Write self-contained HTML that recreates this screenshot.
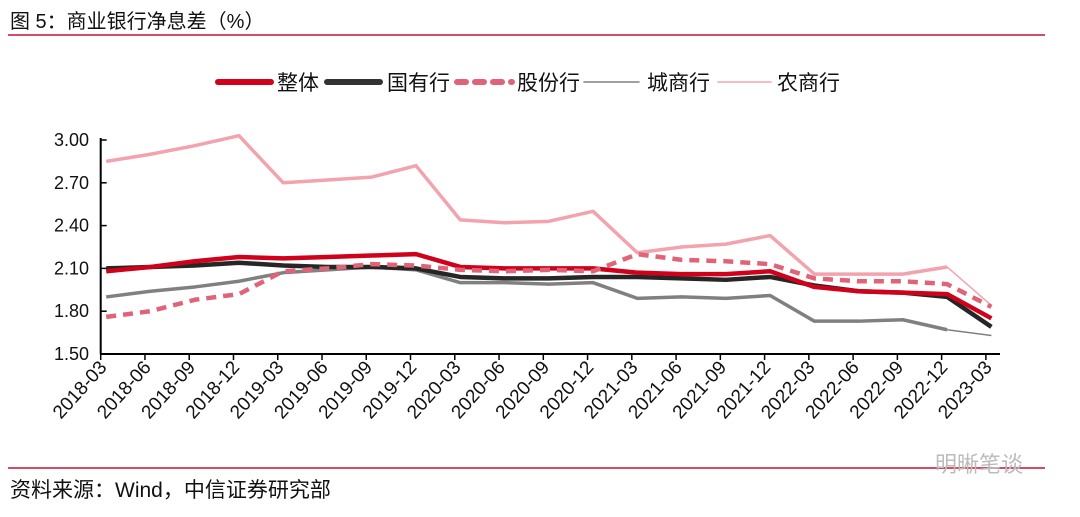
<!DOCTYPE html>
<html><head><meta charset="utf-8"><style>
body{margin:0;background:#fff;width:1080px;height:512px;overflow:hidden;font-family:"Liberation Sans","Noto Sans CJK SC",sans-serif;}
</style></head><body>
<svg width="1080" height="512" xmlns="http://www.w3.org/2000/svg" font-family="Liberation Sans, Noto Sans CJK SC, sans-serif">
<text x="10" y="28" font-size="20" fill="#111">图 5：商业银行净息差（%）</text>
<line x1="8" y1="35" x2="1045" y2="35" stroke="#c8102e" stroke-width="1.5"/>
<g id="legend"></g>
<g id="axes"></g>
<g id="plot"></g>
<line x1="8" y1="468" x2="1045" y2="468" stroke="#c8102e" stroke-width="1.5"/>
<text x="10" y="497" font-size="21" fill="#111">资料来源：Wind，中信证券研究部</text>
<text x="935" y="472" font-size="22" fill="#bbb">明晰笔谈</text>
</svg>
<script>
const categories=["2018-03","2018-06","2018-09","2018-12","2019-03","2019-06","2019-09","2019-12","2020-03","2020-06","2020-09","2020-12","2021-03","2021-06","2021-09","2021-12","2022-03","2022-06","2022-09","2022-12","2023-03"];
const overall=[2.08,2.11,2.15,2.18,2.17,2.18,2.19,2.20,2.11,2.10,2.10,2.10,2.07,2.06,2.06,2.08,1.97,1.94,1.93,1.92,1.75];
const stateOwned=[2.10,2.11,2.12,2.14,2.12,2.11,2.11,2.10,2.04,2.03,2.03,2.04,2.04,2.03,2.02,2.04,1.98,1.94,1.93,1.90,1.69];
const jointStock=[1.76,1.80,1.88,1.92,2.08,2.10,2.13,2.12,2.09,2.08,2.09,2.08,2.20,2.16,2.15,2.13,2.03,2.01,2.01,1.99,1.83];
const cityBanks=[1.90,1.94,1.97,2.01,2.07,2.09,2.11,2.09,2.00,2.00,1.99,2.00,1.89,1.90,1.89,1.91,1.73,1.73,1.74,1.67,1.63];
const ruralBanks=[2.85,2.90,2.96,3.03,2.70,2.72,2.74,2.82,2.44,2.42,2.43,2.50,2.21,2.25,2.27,2.33,2.06,2.06,2.06,2.11,1.84];
const yTicks=[1.50,1.80,2.10,2.40,2.70,3.00];
const seriesNames=["整体","国有行","股份行","城商行","农商行"];

const NS="http://www.w3.org/2000/svg";
const x0=100.7, step=44.26, ptOff=5.5;
const yScale=v=>354-(v-1.5)/1.5*214;
const tickX=i=>x0+step*i;
const ptX=i=>x0+ptOff+step*i;
function mk(tag,attrs,parent){const e=document.createElementNS(NS,tag);for(const k in attrs)e.setAttribute(k,attrs[k]);parent.appendChild(e);return e;}
const axes=document.getElementById('axes'),plot=document.getElementById('plot'),legend=document.getElementById('legend');

let l=mk('line',{x1:x0,y1:138,x2:x0,y2:354,stroke:'#000','stroke-width':2},axes);


l=mk('line',{x1:x0,y1:354,x2:1000,y2:354,stroke:'#000','stroke-width':2},axes);


yTicks.forEach(v=>{
  const y=yScale(v);
  let t=mk('line',{x1:x0,y1:y,x2:x0+6,y2:y,stroke:'#000','stroke-width':1.5},axes);
  
  
  let tx=mk('text',{x:89,y:y+6,'font-size':18,'text-anchor':'end',fill:'#111'},axes);
  tx.textContent=v.toFixed(2);
  
  
});
categories.forEach((c,i)=>{
  const x=tickX(i);
  let t=mk('line',{x1:x,y1:354,x2:x,y2:360,stroke:'#000','stroke-width':1.5},axes);
  
  
  let tx=mk('text',{x:x+7,y:368,'font-size':19,'text-anchor':'end',fill:'#111',transform:`rotate(-48 ${x+7} 368)`},axes);
  tx.textContent=c;
  
  
});

const styles=[
 {data:cityBanks,color:'#808080',w:3.5,dash:null,thinLast:true,name:'city-banks-line'},
 {data:ruralBanks,color:'#f2a3ae',w:3.5,dash:null,thinLast:true,name:'rural-banks-line'},
 {data:stateOwned,color:'#262626',w:4.5,dash:null,name:'state-owned-line'},
 {data:overall,color:'#d0021b',w:4.5,dash:null,name:'overall-line'},
 {data:jointStock,color:'#e06377',w:4.5,dash:'10,7',name:'joint-stock-line'}
];
styles.forEach(s=>{
  const n=s.thinLast?s.data.length-1:s.data.length;
  const pts=s.data.slice(0,n).map((v,i)=>ptX(i)+','+yScale(v)).join(' ');
  const a={points:pts,fill:'none',stroke:s.color,'stroke-width':s.w,'stroke-linejoin':'round'};
  if(s.dash)a['stroke-dasharray']=s.dash;
  let p=mk('polyline',a,plot);
  
  
  if(s.thinLast){
    const k=s.data.length-1;
    let q=mk('line',{x1:ptX(k-1),y1:yScale(s.data[k-1]),x2:ptX(k),y2:yScale(s.data[k]),stroke:s.color,'stroke-width':1.5},plot);
    
    
  }
});

const leg=[
 {x:218,x2:271,color:'#d0021b',w:6,dash:null,tx:277},
 {x:327,x2:380,color:'#333',w:6,dash:null,tx:387},
 {x:457,x2:512,color:'#e06377',w:6,dash:'9,9',tx:517},
 {x:584,x2:639,color:'#808080',w:1.5,dash:null,tx:647},
 {x:718,x2:771,color:'#f2a3ae',w:1.5,dash:null,tx:777}
];
leg.forEach((g,i)=>{
  const a={x1:g.x,y1:82,x2:g.x2,y2:82,stroke:g.color,'stroke-width':g.w,'stroke-linecap':'round'};
  if(g.dash)a['stroke-dasharray']=g.dash;
  let ln=mk('line',a,legend);
  
  
  let t=mk('text',{x:g.tx,y:90,'font-size':21,fill:'#111'},legend);
  t.textContent=seriesNames[i];
  
  
});
</script>
</body></html>
